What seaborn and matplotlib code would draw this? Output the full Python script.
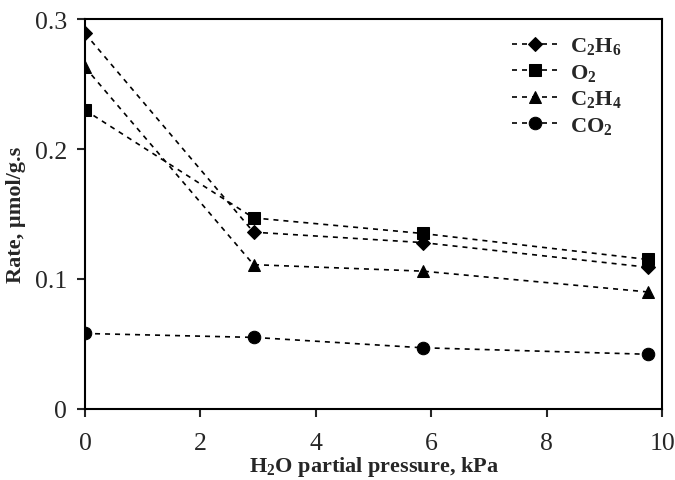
import pandas as pd
import numpy as np
import seaborn as sns
import matplotlib.pyplot as plt

# data
pressure = [0, 2.92, 5.85, 9.75]
c2h6 = [0.289, 0.136, 0.128, 0.109]
o2 = [0.230, 0.147, 0.135, 0.115]
c2h4 = [0.263, 0.111, 0.106, 0.090]
co2 = [0.058, 0.055, 0.047, 0.042]

labels = ['C$_2$H$_6$', 'O$_2$', 'C$_2$H$_4$', 'CO$_2$']
markers = ['D', 's', '^', 'o']
msizes = [7, 8, 9, 9]

sns.set_style('ticks')
plt.rcParams['font.family'] = ['Liberation Serif', 'DejaVu Serif']
# all math text here is bold (legend and x label)
plt.rcParams['mathtext.fontset'] = 'custom'
plt.rcParams['mathtext.rm'] = 'Liberation Serif:bold'
plt.rcParams['mathtext.default'] = 'rm'

fig = plt.figure(figsize=(6.75, 4.81), dpi=100)
ax = fig.add_axes([0.126, 0.148, 0.855, 0.81])

for vals, lab, mk, ms in zip([c2h6, o2, c2h4, co2], labels, markers, msizes):
    df = pd.DataFrame({'p': pressure, 'rate': vals})
    sns.lineplot(data=df, x='p', y='rate', ax=ax, color='black', linewidth=1.2,
                 linestyle=(0, (3, 3)), marker=mk, markersize=ms,
                 markeredgecolor='black', label=lab)

ax.set_xlim(0, 10)
ax.set_ylim(0, 0.3)
ax.set_xticks([0, 2, 4, 6, 8, 10])
ax.set_yticks([0, 0.1, 0.2, 0.3])
ax.set_yticklabels(['0', '0.1', '0.2', '0.3'])
ax.tick_params(labelsize=18.5, direction='out', length=6, width=1.5)
ax.tick_params(axis='x', pad=11)
ax.tick_params(axis='y', pad=7)
for s in ax.spines.values():
    s.set_linewidth(1.5)
    s.set_color('black')

ax.set_xlabel('H$_2$O partial pressure, kPa', fontsize=16, fontweight='bold', labelpad=0)
ax.set_ylabel('Rate, µmol/g.s', fontsize=16, fontweight='bold', labelpad=6)

leg = ax.legend(loc='upper left', bbox_to_anchor=(0.705, 1.01), frameon=False,
                prop={'size': 16, 'weight': 'bold'}, handlelength=2.1,
                handletextpad=0.5, labelspacing=0.25)

fig.savefig('out.png', dpi=100)
